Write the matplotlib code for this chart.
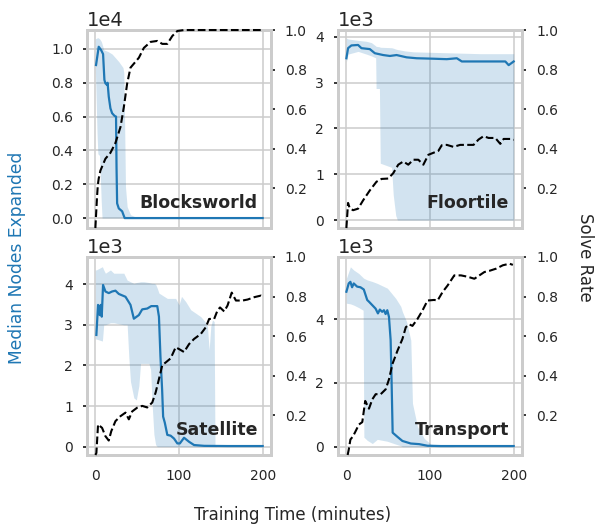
import matplotlib
matplotlib.use("Agg")
import matplotlib.pyplot as plt

# ---- Blocksworld ----
bw_t = [0.8, 4, 6.8, 9.2, 10.8, 12, 14, 14.6, 16, 18, 20, 23, 24.7, 25.3, 26, 28, 32, 35, 200]
bw_med = [9050, 10130, 9940, 9700, 8170, 7970, 7870, 8000, 7180, 6490, 6200, 6040, 6000, 3000, 870, 570, 400, 0, 0]
bw_band_t = [0, 2, 3, 5, 7, 8, 10, 15, 20, 28, 33, 34, 35, 36, 38, 42, 50, 60, 200]
bw_upper = [10600, 10650, 10670, 10600, 10450, 10300, 9950, 9850, 9700, 9250, 8900, 8600, 5500, 1850, 670, 200, 20, 0, 0]
bw_lower = [8800, 5000, 3800, 3700, 1000, 0, 0, 0, 0, 0, 0, 0, 0, 0, 0, 0, 0, 0, 0]
bw_solve_t = [0, 2, 3, 4, 6, 9, 12, 18, 24, 30, 34, 38, 42, 46, 52, 58, 66, 74, 80, 86, 92, 98, 106, 200]
bw_solve = [0.0, 0.16, 0.22, 0.25, 0.29, 0.32, 0.35, 0.38, 0.43, 0.51, 0.61, 0.73, 0.81, 0.83, 0.86, 0.91,
            0.94, 0.945, 0.93, 0.93, 0.97, 0.995, 1.0, 1.0]

# ---- Floortile ----
ft_t = [0, 2, 6, 14, 18, 28, 34, 44, 52, 60, 72, 84, 104, 120, 132, 138, 152, 168, 184, 190, 194, 200]
ft_med = [3530, 3750, 3810, 3820, 3750, 3730, 3640, 3600, 3580, 3600, 3550, 3530, 3520, 3510, 3530, 3460,
          3460, 3460, 3460, 3460, 3380, 3460]
ft_band_t = [0, 2, 14, 24, 30, 35, 35.5, 39.5, 40.5, 54, 56, 59, 61, 70, 80, 120, 160, 200]
ft_upper = [3970, 3950, 3920, 3900, 3870, 3800, 3790, 3780, 3770, 3760, 3750, 3730, 3720, 3690, 3670, 3650, 3630, 3630]
ft_lower = [3450, 3620, 3680, 3620, 3580, 3540, 2870, 2870, 1240, 1150, 550, 100, 0, 0, 0, 0, 0, 0]
ft_solve_t = [0, 2, 4, 8, 14, 20, 28, 36, 42, 50, 56, 62, 68, 74, 80, 86, 92, 98, 104, 110, 114, 120, 128,
              136, 152, 158, 164, 170, 178, 184, 188, 196, 200]
ft_solve = [0.0, 0.127, 0.10, 0.09, 0.098, 0.14, 0.19, 0.234, 0.248, 0.25, 0.277, 0.32, 0.336, 0.32, 0.345,
            0.345, 0.32, 0.37, 0.38, 0.39, 0.418, 0.42, 0.41, 0.42, 0.42, 0.447, 0.464, 0.455, 0.455, 0.425,
            0.45, 0.45, 0.445]

# ---- Satellite ----
sat_t = [1.2, 3.2, 5.2, 6.4, 7.6, 9.2, 12, 16, 20, 24, 28, 36, 42, 46, 52, 56, 62, 66.8, 74, 76, 77.8, 79.8,
         81, 83, 86, 90, 94, 98, 101, 106, 112, 118, 130, 158, 200]
sat_med = [2750, 3490, 3240, 3490, 3200, 3980, 3820, 3780, 3820, 3840, 3760, 3690, 3490, 3150, 3240, 3380,
           3400, 3460, 3460, 3200, 2220, 1400, 740, 590, 290, 270, 200, 80, 80, 220, 120, 40, 20, 15, 15]
sat_band_t = [0, 1, 8.4, 10, 12, 18, 22, 34, 38, 40, 42, 46, 49, 52, 54, 58, 64, 66, 68, 70, 72, 74, 76, 86,
              96, 100, 103, 108, 114, 126, 131, 134, 136, 138, 140, 142, 143, 145, 200]
sat_upper = [4350, 4350, 4430, 4350, 4270, 4350, 4270, 4270, 4100, 4080, 4060, 4020, 4040, 4050, 4060, 4060,
             4040, 4030, 4020, 4020, 4000, 3900, 3780, 3650, 3650, 3490, 3700, 3570, 3370, 3200, 3080, 2960,
             2380, 2960, 3120, 3080, 50, 0, 0]
sat_lower = [2650, 2650, 2600, 3000, 3000, 3050, 3050, 3000, 3000, 2200, 1600, 1200, 1150, 1500, 2050, 2050,
             2050, 1900, 1000, 300, 50, 0, 0, 0, 0, 0, 0, 0, 0, 0, 0, 0, 0, 0, 0, 0, 0, 0, 0]
sat_solve_t = [0, 1.2, 3.2, 8, 12, 16, 19, 24, 30, 36, 40, 44, 50, 56, 62, 68, 72, 76, 80, 84, 90, 96, 100,
               106, 112, 118, 126, 132, 136, 142, 146, 149, 154, 158, 163, 168, 176, 182, 190, 198, 200]
sat_solve = [0.0, 0.01, 0.154, 0.137, 0.095, 0.073, 0.12, 0.171, 0.196, 0.214, 0.18, 0.22, 0.239, 0.248,
             0.24, 0.265, 0.315, 0.383, 0.454, 0.467, 0.488, 0.544, 0.535, 0.52, 0.56, 0.586, 0.611, 0.645,
             0.687, 0.687, 0.73, 0.745, 0.725, 0.755, 0.82, 0.78, 0.78, 0.785, 0.797, 0.805, 0.8]

# ---- Transport ----
tr_t = [0, 2.8, 4.8, 6.8, 8.8, 12.8, 16.8, 20.8, 24.9, 26.9, 30.9, 34.9, 37.7, 40, 42.8, 44.9, 46.9, 48.9,
        50.9, 52.9, 54, 55.3, 61, 67, 77, 87, 97, 113, 200]
tr_med = [4860, 5120, 5170, 5000, 5120, 5020, 5000, 4930, 4600, 4550, 4440, 4330, 4180, 4300, 4230, 4280,
          4160, 4280, 4070, 3340, 2090, 440, 310, 180, 100, 80, 30, 20, 20]
tr_band_t = [0, 4.8, 8.8, 14.9, 20, 20.9, 24.9, 31, 37, 49, 59, 65, 67, 72, 77, 79, 85, 93, 101, 113, 130, 200]
tr_upper = [5280, 5640, 5540, 5430, 5300, 5280, 5230, 5180, 5120, 4970, 4650, 4400, 4230, 3920, 3340, 1360,
            630, 260, 80, 30, 0, 0]
tr_lower = [4500, 4480, 4440, 4360, 4280, 300, 200, 100, 230, 170, 80, 30, 0, 0, 0, 0, 0, 0, 0, 0, 0, 0]
tr_solve_t = [1.5, 2.8, 4.8, 8, 11, 15, 19, 22.5, 27, 31, 35, 41, 47, 51, 55, 61, 67, 71, 75, 79, 85, 91, 97,
              105, 109, 115, 121, 129, 137, 145, 153, 159, 165, 171, 179, 187, 195, 199]
tr_solve = [0.0, 0.027, 0.078, 0.095, 0.12, 0.154, 0.166, 0.273, 0.234, 0.281, 0.307, 0.307, 0.332, 0.383,
            0.459, 0.526, 0.586, 0.645, 0.66, 0.652, 0.687, 0.73, 0.78, 0.783, 0.78, 0.823, 0.856, 0.907,
            0.907, 0.9, 0.89, 0.907, 0.924, 0.93, 0.941, 0.958, 0.966, 0.96]

panels = [
    ("Blocksworld", bw_t, bw_med, bw_band_t, bw_lower, bw_upper, bw_solve_t, bw_solve,
     (-590, 11120), [0, 2000, 4000, 6000, 8000, 10000]),
    ("Floortile", ft_t, ft_med, ft_band_t, ft_lower, ft_upper, ft_solve_t, ft_solve,
     (-175, 4146), [0, 1000, 2000, 3000, 4000]),
    ("Satellite", sat_t, sat_med, sat_band_t, sat_lower, sat_upper, sat_solve_t, sat_solve,
     (-205, 4670), [0, 1000, 2000, 3000, 4000]),
    ("Transport", tr_t, tr_med, tr_band_t, tr_lower, tr_upper, tr_solve_t, tr_solve,
     (-260, 5950), [0, 2000, 4000]),
]

blue = "#1f77b4"
dark = "#262626"
spine_c = "#cccccc"

plt.rcParams["font.family"] = "DejaVu Sans"
plt.rcParams["text.color"] = dark

fig, axes = plt.subplots(2, 2, figsize=(5.98, 5.24), dpi=100, sharex=True)
fig.subplots_adjust(left=0.1455, right=0.873, bottom=0.1317, top=0.9427, wspace=0.364, hspace=0.146)

for ax, (name, t, med, bt, lo, hi, st, sv, ylim, yt) in zip(axes.flat, panels):
    ax.fill_between(bt, lo, hi, color=blue, alpha=0.2, lw=0)
    ax.plot(t, med, color=blue, lw=1.6)
    ax.set_xlim(-10, 210)
    ax.set_xticks([0, 100, 200])
    ax.set_ylim(*ylim)
    ax.set_yticks(yt)
    ax.ticklabel_format(axis="y", style="sci", scilimits=(0, 0))
    ax.yaxis.get_offset_text().set_fontsize(14)
    ax.yaxis.get_offset_text().set_color(dark)
    ax.grid(True, color=spine_c, lw=1.1)
    ax.set_axisbelow(True)
    ax.tick_params(axis="y", length=3, width=1.3, color=dark, pad=7, labelsize=10, labelcolor=dark)
    ax.tick_params(axis="x", length=0, pad=10, labelsize=10, labelcolor=dark)

    ax2 = ax.twinx()
    ax2.plot(st, sv, color="black", ls="--", lw=1.5, clip_on=False, zorder=3)
    ax2.set_ylim(0, 1.0)
    ax2.set_yticks([0.2, 0.4, 0.6, 0.8, 1.0])
    ax2.tick_params(axis="y", length=3, width=1.3, color=dark, pad=7, labelsize=10, labelcolor=dark)
    ax2.text(0.928, 0.128, name, transform=ax2.transAxes, ha="right", va="center",
             fontsize=12.5, fontweight="bold", color=dark)

    for a in (ax, ax2):
        for sp in a.spines.values():
            sp.set_color(spine_c)
            sp.set_linewidth(2)

fig.text(0.028, 0.507, "Median Nodes Expanded", rotation=90, color=blue, fontsize=12.3,
         ha="center", va="center")
fig.text(0.979, 0.509, "Solve Rate", rotation=270, color=dark, fontsize=12, ha="center", va="center")
fig.text(0.489, 0.018, "Training Time (minutes)", color=dark, fontsize=12, ha="center", va="center")

fig.savefig("out.png", dpi=100)
